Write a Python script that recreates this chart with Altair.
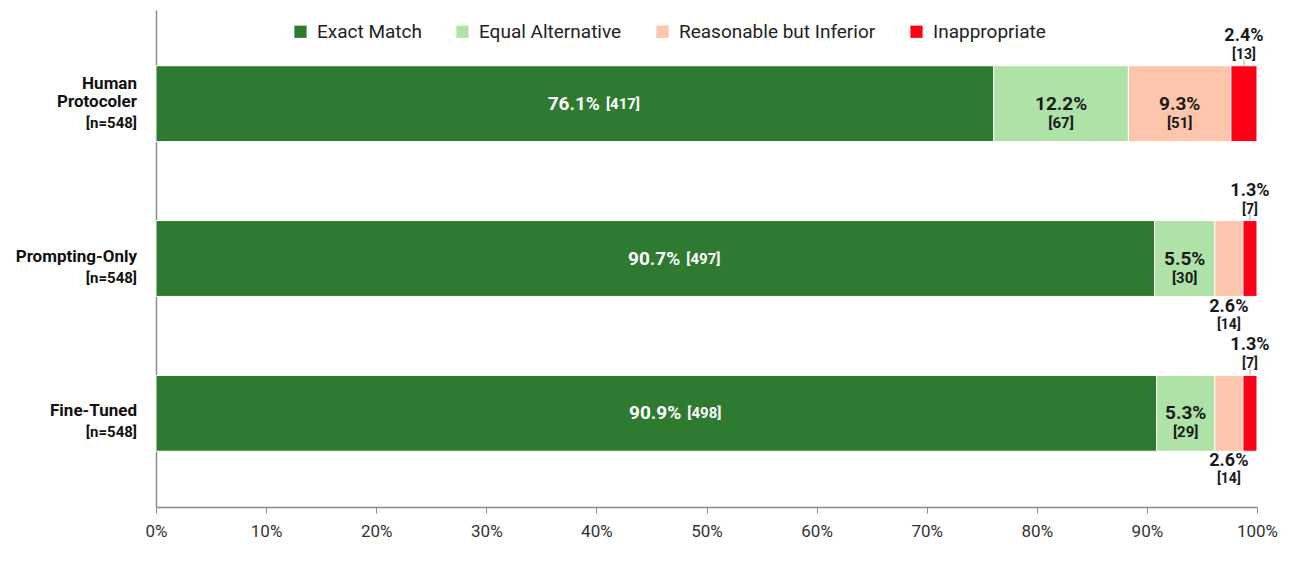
import altair as alt
import pandas as pd

F = "Roboto"

models = ["Human Protocoler", "Prompting-Only", "Fine-Tuned"]
name_line1 = ["Human", "", ""]
name_line2 = ["Protocoler", "Prompting-Only", "Fine-Tuned"]
n_labels = ["[n=548]", "[n=548]", "[n=548]"]
categories = ["Exact Match", "Equal Alternative", "Reasonable but Inferior", "Inappropriate"]
colors = ["#2E7A30", "#AFE2A7", "#FCC5AC", "#FF0019"]

counts_human = [417, 67, 51, 13]
counts_prompt = [497, 30, 14, 7]
counts_fine = [498, 29, 14, 7]

pct_human = ["76.1%", "12.2%", "9.3%", "2.4%"]
pct_prompt = ["90.7%", "5.5%", "2.6%", "1.3%"]
pct_fine = ["90.9%", "5.3%", "2.6%", "1.3%"]

place_human = ["main", "inside", "inside", "above"]
place_prompt = ["main", "inside", "below", "above"]
place_fine = ["main", "inside", "below", "above"]

rows = []
for m, cs, ps, pl in zip(models,
                         [counts_human, counts_prompt, counts_fine],
                         [pct_human, pct_prompt, pct_fine],
                         [place_human, place_prompt, place_fine]):
    for i, (cat, c, p, where) in enumerate(zip(categories, cs, ps, pl)):
        rows.append({"model": m, "cat": cat, "order": i, "count": c,
                     "pct": p, "cnt": f"[{c}]", "place": where})
df = pd.DataFrame(rows)
df_m = pd.DataFrame({"model": models, "l1": name_line1, "l2": name_line2, "n": n_labels})

y = alt.Y("model:N", sort=models,
          scale=alt.Scale(paddingInner=0.51, paddingOuter=0.36),
          axis=alt.Axis(labels=False, ticks=False, title=None, grid=False,
                        domainColor="#8c8c8c", domainWidth=1.5))

base = alt.Chart(df).transform_stack(
    stack="count", groupby=["model"], sort=[alt.SortField("order")],
    as_=["x0", "x1"], offset="normalize"
).transform_calculate(mid="(datum.x0 + datum.x1) / 2")

xscale = alt.Scale(domain=[0, 1], nice=False)

bars = base.mark_bar(stroke="white", strokeWidth=1).encode(
    x=alt.X("x0:Q", scale=xscale,
            axis=alt.Axis(format=".0%", values=[i / 10 for i in range(11)], grid=False,
                          title=None, labelFont=F, labelFontSize=17, labelColor="#333",
                          labelFlush=False, domainColor="#8c8c8c", domainWidth=1.5,
                          tickColor="#8c8c8c", tickSize=6, labelPadding=10)),
    x2="x1:Q",
    y=y,
    color=alt.Color("cat:N", scale=alt.Scale(domain=categories, range=colors),
                    legend=alt.Legend(orient="none", legendX=135, legendY=12,
                                      direction="horizontal", columns=4, title=None,
                                      padding=0, symbolType="square", symbolSize=150,
                                      symbolStrokeWidth=0, labelFont=F,
                                      labelFontSize=19, labelColor="#222", labelLimit=0,
                                      columnPadding=31, labelOffset=7)),
    order=alt.Order("order:Q"),
)

def txt(filt, **kw):
    return base.transform_filter(filt).mark_text(font=F, fontWeight="bold", baseline="middle", **kw)

X = alt.X("mid:Q", scale=xscale)

main_pct = txt("datum.place == 'main'", align="right", dx=25, color="white", fontSize=19).encode(
    x=X, y=y, text="pct:N")
main_cnt = txt("datum.place == 'main'", align="left", dx=31, color="white", fontSize=15).encode(
    x=X, y=y, text="cnt:N")

in_pct = txt("datum.place == 'inside'", align="center", dy=0, color="#1a1a1a", fontSize=19).encode(
    x=X, y=y, text="pct:N")
in_cnt = txt("datum.place == 'inside'", align="center", dy=19, color="#1a1a1a", fontSize=15).encode(
    x=X, y=y, text="cnt:N")

ab_pct = txt("datum.place == 'above'", align="center", dy=-68, color="#1a1a1a", fontSize=18).encode(
    x=X, y=y, text="pct:N")
ab_cnt = txt("datum.place == 'above'", align="center", dy=-49, color="#1a1a1a", fontSize=14).encode(
    x=X, y=y, text="cnt:N")
ab_line = base.transform_filter("datum.place == 'above'").mark_tick(
    orient="vertical", size=6, thickness=1, yOffset=-41, color="#aaaaaa", opacity=1).encode(
    x=X, y=y)

be_pct = txt("datum.place == 'below'", align="center", dy=48, color="#1a1a1a", fontSize=18).encode(
    x=X, y=y, text="pct:N")
be_cnt = txt("datum.place == 'below'", align="center", dy=66, color="#1a1a1a", fontSize=14).encode(
    x=X, y=y, text="cnt:N")

def side(field, size, dy):
    return alt.Chart(df_m).mark_text(font=F, fontWeight="bold", fontSize=size, align="right",
                                     baseline="middle", dy=dy, color="#111").encode(
        x=alt.value(-19), y=y, text=f"{field}:N")

names1 = side("l1", 17, -20)
names2 = side("l2", 17, -2)
ns = side("n", 15, 19)

chart = alt.layer(bars, main_pct, main_cnt, in_pct, in_cnt, ab_line, ab_pct, ab_cnt,
                  be_pct, be_cnt, names1, names2, ns).properties(
    width=1101, height=497,
    autosize=alt.AutoSizeParams(type="none"),
    padding={"left": 148, "top": 2, "right": 40, "bottom": 50},
).configure_view(stroke=None)

chart.save("out.html", embed_options={"renderer": "svg", "actions": False})
